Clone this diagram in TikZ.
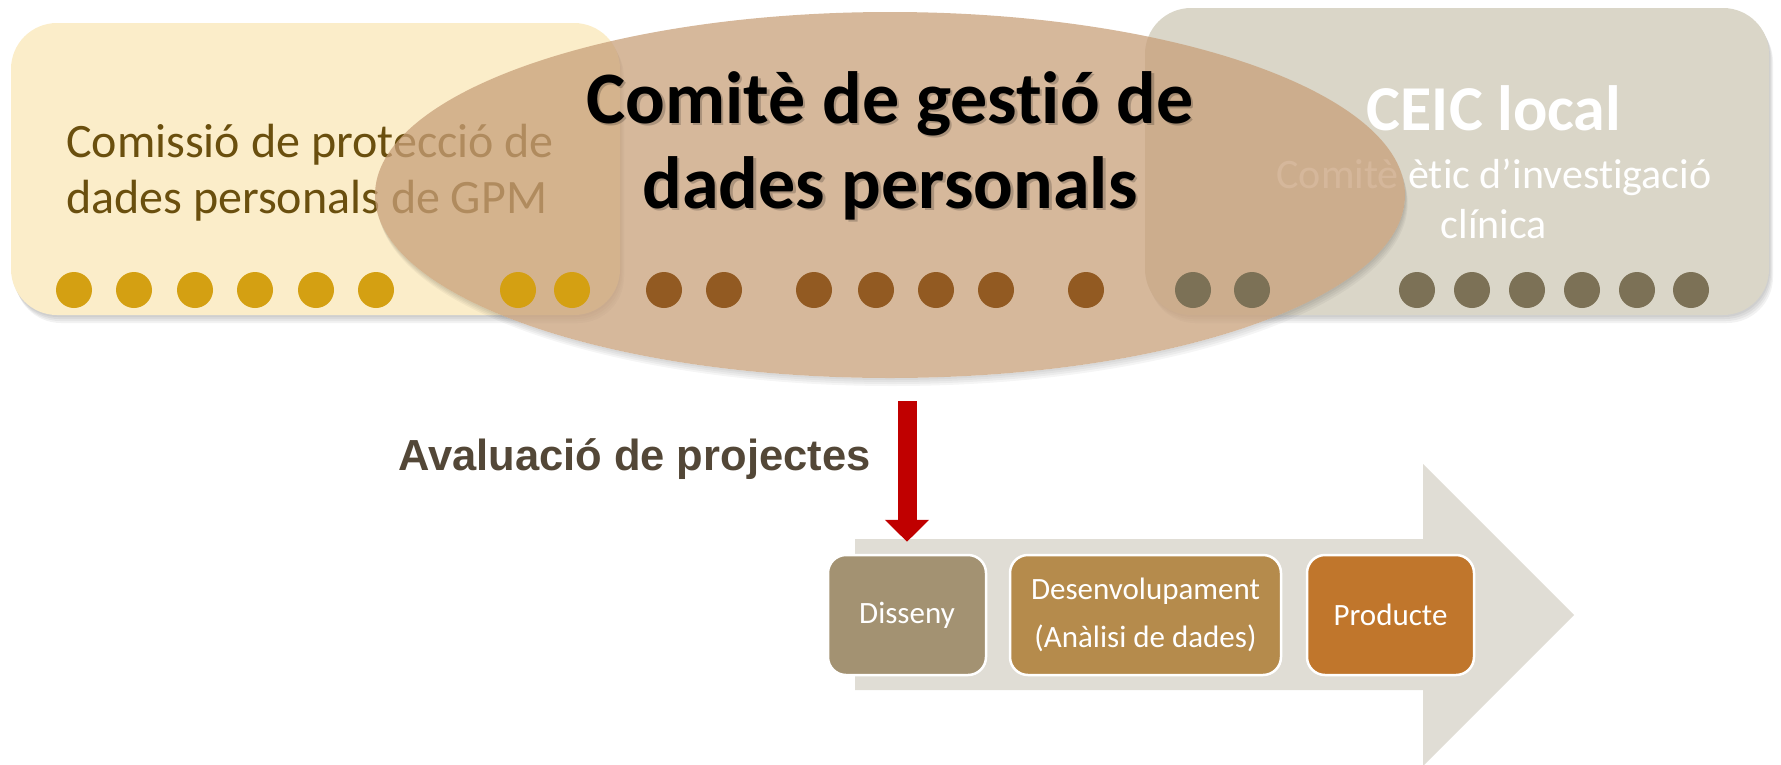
\documentclass[tikz,border=0pt]{standalone}
\usepackage{fontspec}
\setmainfont{Carlito}[Ligatures={NoCommon}]
\newfontfamily\arialfont{Liberation Sans}
\usetikzlibrary{shapes.geometric,arrows.meta,calc}
\definecolor{leftfill}{HTML}{FBEDC9}
\definecolor{lefttext}{HTML}{6A4F0E}
\definecolor{yellowdot}{HTML}{D4A012}
\definecolor{browndot}{HTML}{925A22}
\definecolor{rightfill}{HTML}{DAD6C8}
\definecolor{greydot}{HTML}{7C7156}
\definecolor{ellfill}{HTML}{C8A07A}
\definecolor{arrowgrey}{HTML}{E0DDD5}
\definecolor{disfill}{HTML}{A39272}
\definecolor{desfill}{HTML}{B58B4C}
\definecolor{profill}{HTML}{C0762C}
\definecolor{arrowred}{HTML}{C00000}
\definecolor{avaltext}{HTML}{534737}
\begin{document}
\begin{tikzpicture}[x=1pt,y=-1pt,
  softshadow/.style={
    preaction={fill=black, opacity=0.05, transform canvas={xshift=1pt,yshift=-2pt}},
    preaction={fill=black, opacity=0.05, transform canvas={xshift=2pt,yshift=-4pt}},
    preaction={fill=black, opacity=0.05, transform canvas={xshift=3pt,yshift=-6pt}},
    preaction={fill=black, opacity=0.05, transform canvas={xshift=4pt,yshift=-8pt}}},
  bigbox/.style={rectangle, rounded corners=46pt, inner sep=0pt, softshadow},
  procbox/.style={rectangle, rounded corners=18pt, draw=white, line width=2.5pt,
    minimum height=120pt, text=white, font=\fontsize{31}{48}\selectfont,
    align=center, inner sep=0pt},
  redarrow/.style={draw=arrowred, line width=19pt, -{Triangle[width=43pt,length=22pt]}},
  dotstyle/.style={radius=18pt}
]
\useasboundingbox (0,0) rectangle (1781,764);

% process arrow
\fill[arrowgrey] (855,539) -- (1423,539) -- (1423,464) -- (1574,615)
  -- (1423,766) -- (1423,690) -- (855,690) -- cycle;

% boxes
\node[bigbox, fill=leftfill, minimum width=609pt, minimum height=292pt] (lbox) at (315.5,169) {};
\node[bigbox, fill=rightfill, minimum width=624pt, minimum height=307pt] (rbox) at (1457,161.5) {};

% texts under the ellipse (base anchor = baseline of the last line)
\node[anchor=base west, align=left, text=lefttext, inner sep=0pt,
  font=\fontsize{48}{56}\selectfont] (ltext) at (66,213)
  {Comissió de protecció de\\dades personals de GPM};
\node[anchor=base, align=center, text=white, inner sep=0pt,
  font=\fontsize{42}{50}\selectfont] (rsub) at (1494,238)
  {Comitè ètic d’investigació\\clínica};

% ellipse shadow
\begin{scope}[even odd rule]
  \clip (0,0) rectangle (1781,764) (890,195) ellipse [x radius=515, y radius=183];
  \foreach \s in {2,4,6,8} \fill[black, opacity=0.04] (890+\s/3,195+\s) ellipse [x radius=515, y radius=183];
\end{scope}
% ellipse
\node[ellipse, fill=ellfill, fill opacity=0.75, minimum width=1030pt, minimum height=366pt, inner sep=0pt] (ell) at (890,195) {};

% dots
\foreach \x in {74,134,195,255,316,376,518,572} \fill[yellowdot] (\x,290) circle[dotstyle];
\foreach \x in {664,724,814,876,936,996,1086} \fill[browndot] (\x,290) circle[dotstyle];
\foreach \x in {1193,1252,1417,1472,1527,1582,1637,1691} \fill[greydot] (\x,290) circle[dotstyle];

% ellipse title with shadow
\node[anchor=base, align=center, inner sep=0pt, text=black, text opacity=0.2,
  font=\bfseries\fontsize{74}{85}\selectfont] (titleshadow) at (892.5,210.5)
  {Comitè de gestió de\\dades personals};
\node[anchor=base, align=center, inner sep=0pt, text=black,
  font=\bfseries\fontsize{74}{85}\selectfont] (title) at (890,208)
  {Comitè de gestió de\\dades personals};

\node[anchor=base, text=white, inner sep=0pt,
  font=\bfseries\fontsize{64}{70}\selectfont] (ceic) at (1494,130) {CEIC local};

% lower part
\node[anchor=base west, inner sep=0pt, text=avaltext,
  font=\arialfont\bfseries\fontsize{43.5}{50}\selectfont] (aval) at (398,470) {Avaluació de projectes};

\node[procbox, fill=disfill, minimum width=158pt] (dis) at (907,615) {Disseny};
\node[procbox, fill=desfill, minimum width=271pt] (des) at (1145.5,615) {Desenvolupament\\(Anàlisi de dades)};
\node[procbox, fill=profill, minimum width=167pt] (pro) at (1390.5,615) {Producte};

\draw[redarrow] ($(ell.south -| dis.north)+(0,23)$) -- ($(dis.north)+(0,-12)$);
\end{tikzpicture}
\end{document}
